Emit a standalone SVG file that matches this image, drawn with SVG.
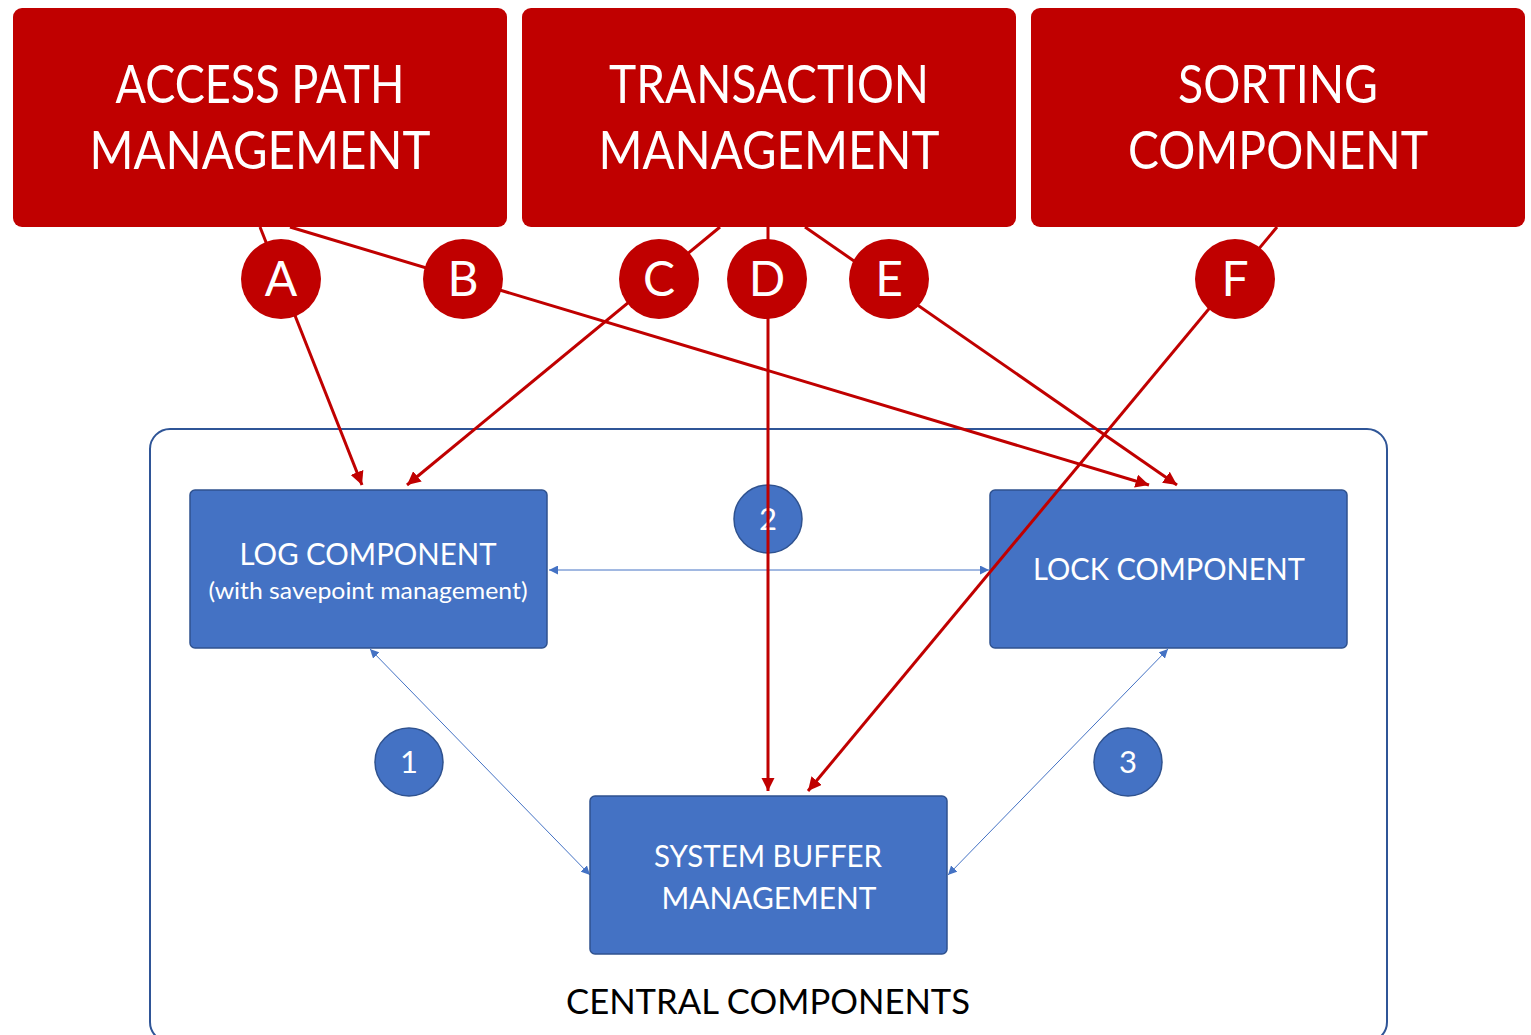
<svg xmlns="http://www.w3.org/2000/svg" width="1531" height="1035" viewBox="0 0 1531 1035">
  <style>
    .hdr { fill: #C00000; }
    .hdr-t { fill: #FFFFFF; font-family: Lato, "Open Sans", sans-serif; font-size: 52px; text-anchor: middle; }
    .tag { fill: #C00000; }
    .tag-t { fill: #FFFFFF; font-family: Lato, "Open Sans", sans-serif; font-size: 48px; text-anchor: middle; }
    .comp { fill: #4472C4; stroke: #2F528F; stroke-width: 1.5; }
    .comp-t { fill: #FFFFFF; font-family: Lato, "Open Sans", sans-serif; font-size: 31px; text-anchor: middle; }
    .comp-s { fill: #FFFFFF; font-family: Lato, "Open Sans", sans-serif; font-size: 24px; text-anchor: middle; }
    .num { fill: #4472C4; stroke: #2F528F; stroke-width: 1.5; }
    .num-t { fill: #FFFFFF; font-family: Lato, "Open Sans", sans-serif; font-size: 31px; text-anchor: middle; }
    .uses { stroke: #C00000; stroke-width: 3; fill: none; }
    .link { stroke: #4472C4; stroke-width: 1; fill: none; }
    .frame { fill: none; stroke: #2F5597; stroke-width: 2; }
    .caption { fill: #000000; font-family: Lato, "Open Sans", sans-serif; font-size: 34px; text-anchor: middle; }
  </style>
  <defs>
    <marker id="redHead" viewBox="0 0 10 10" refX="10" refY="5" markerWidth="4.5" markerHeight="4.5" markerUnits="strokeWidth" orient="auto">
      <path d="M0,0 L10,5 L0,10 z" fill="#C00000"/>
    </marker>
    <marker id="blueHead" viewBox="0 0 10 10" refX="10" refY="5" markerWidth="9" markerHeight="9" markerUnits="strokeWidth" orient="auto-start-reverse">
      <path d="M0,0 L10,5 L0,10 z" fill="#4472C4"/>
    </marker>
  </defs>

  <!-- central components frame (bottom edge runs past the canvas) -->
  <g id="central">
    <rect class="frame" x="150" y="429" width="1237" height="613" rx="20"/>
    <text class="caption" x="768" y="1014" textLength="404" lengthAdjust="spacingAndGlyphs">CENTRAL COMPONENTS</text>
  </g>

  <!-- connectors between the central components -->
  <g id="links">
    <line class="link" x1="549" y1="570" x2="989" y2="570" marker-start="url(#blueHead)" marker-end="url(#blueHead)"/>
    <line class="link" x1="370" y1="649" x2="590" y2="875" marker-start="url(#blueHead)" marker-end="url(#blueHead)"/>
    <line class="link" x1="1168" y1="649" x2="948" y2="875" marker-start="url(#blueHead)" marker-end="url(#blueHead)"/>
  </g>

  <!-- central component boxes -->
  <g id="log">
    <rect class="comp" x="190" y="490" width="357" height="158" rx="5"/>
    <text class="comp-t" x="368" y="565" textLength="257" lengthAdjust="spacingAndGlyphs">LOG COMPONENT</text>
    <text class="comp-s" x="368" y="599" textLength="319" lengthAdjust="spacingAndGlyphs">(with savepoint management)</text>
  </g>
  <g id="lock">
    <rect class="comp" x="990" y="490" width="357" height="158" rx="5"/>
    <text class="comp-t" x="1169" y="580" textLength="272" lengthAdjust="spacingAndGlyphs">LOCK COMPONENT</text>
  </g>
  <g id="buffer">
    <rect class="comp" x="590" y="796" width="357" height="158" rx="5"/>
    <text class="comp-t" x="768" y="867" textLength="228" lengthAdjust="spacingAndGlyphs">SYSTEM BUFFER</text>
    <text class="comp-t" x="769" y="909" textLength="215" lengthAdjust="spacingAndGlyphs">MANAGEMENT</text>
  </g>

  <!-- numbered interface markers -->
  <g id="n1">
    <circle class="num" cx="409" cy="762" r="34"/>
    <text class="num-t" x="409" y="773">1</text>
  </g>
  <g id="n2">
    <circle class="num" cx="768" cy="519" r="34"/>
    <text class="num-t" x="768" y="530">2</text>
  </g>
  <g id="n3">
    <circle class="num" cx="1128" cy="762" r="34"/>
    <text class="num-t" x="1128" y="773">3</text>
  </g>

  <!-- usage connectors from the upper components -->
  <g id="uses">
    <line class="uses" x1="260" y1="227" x2="362" y2="485" marker-end="url(#redHead)"/>
    <line class="uses" x1="290" y1="227" x2="1149" y2="485" marker-end="url(#redHead)"/>
    <line class="uses" x1="720" y1="227" x2="407" y2="485" marker-end="url(#redHead)"/>
    <line class="uses" x1="768" y1="227" x2="768" y2="791" marker-end="url(#redHead)"/>
    <line class="uses" x1="805" y1="227" x2="1177" y2="485" marker-end="url(#redHead)"/>
    <line class="uses" x1="1277" y1="227" x2="808" y2="791" marker-end="url(#redHead)"/>
  </g>

  <!-- upper components -->
  <g id="access">
    <rect class="hdr" x="13" y="8" width="494" height="219" rx="9"/>
    <text class="hdr-t" x="260" y="103" textLength="289" lengthAdjust="spacingAndGlyphs">ACCESS PATH</text>
    <text class="hdr-t" x="260" y="169" textLength="341" lengthAdjust="spacingAndGlyphs">MANAGEMENT</text>
  </g>
  <g id="transaction">
    <rect class="hdr" x="522" y="8" width="494" height="219" rx="9"/>
    <text class="hdr-t" x="769" y="103" textLength="320" lengthAdjust="spacingAndGlyphs">TRANSACTION</text>
    <text class="hdr-t" x="769" y="169" textLength="341" lengthAdjust="spacingAndGlyphs">MANAGEMENT</text>
  </g>
  <g id="sorting">
    <rect class="hdr" x="1031" y="8" width="494" height="219" rx="9"/>
    <text class="hdr-t" x="1278" y="103" textLength="200" lengthAdjust="spacingAndGlyphs">SORTING</text>
    <text class="hdr-t" x="1278" y="169" textLength="300" lengthAdjust="spacingAndGlyphs">COMPONENT</text>
  </g>

  <!-- lettered usage markers -->
  <g id="tagA"><circle class="tag" cx="281" cy="279" r="40"/><text class="tag-t" x="281" y="296">A</text></g>
  <g id="tagB"><circle class="tag" cx="463" cy="279" r="40"/><text class="tag-t" x="463" y="296">B</text></g>
  <g id="tagC"><circle class="tag" cx="659" cy="279" r="40"/><text class="tag-t" x="659" y="296">C</text></g>
  <g id="tagD"><circle class="tag" cx="767" cy="279" r="40"/><text class="tag-t" x="767" y="296">D</text></g>
  <g id="tagE"><circle class="tag" cx="889" cy="279" r="40"/><text class="tag-t" x="889" y="296">E</text></g>
  <g id="tagF"><circle class="tag" cx="1235" cy="279" r="40"/><text class="tag-t" x="1235" y="296">F</text></g>
</svg>
